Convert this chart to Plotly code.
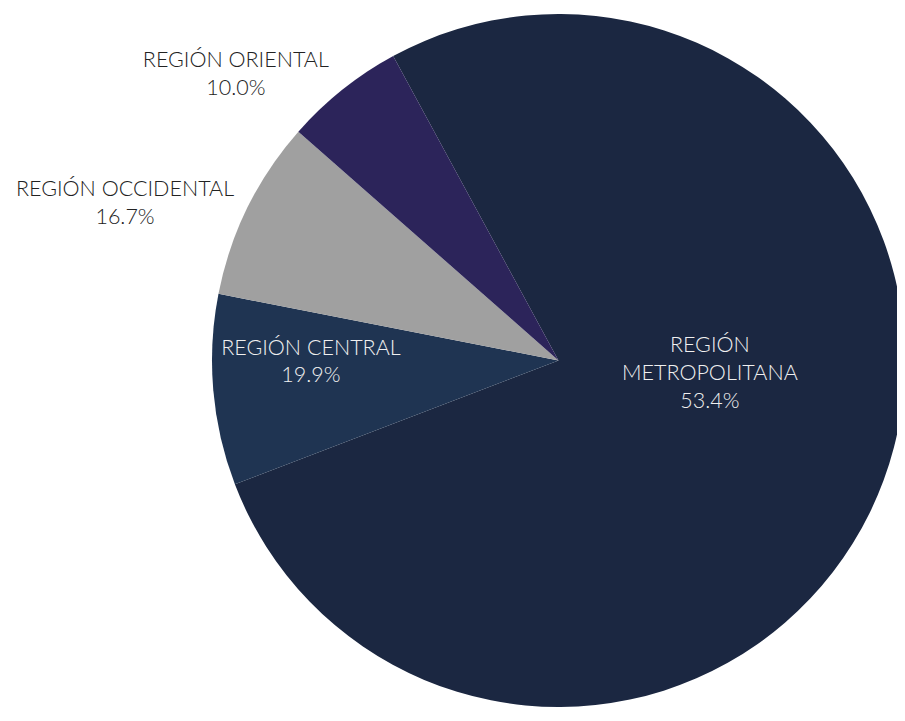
import plotly.graph_objects as go

regions = ["REGIÓN<br>METROPOLITANA", "REGIÓN CENTRAL", "REGIÓN OCCIDENTAL", "REGIÓN ORIENTAL"]
slice_values = [77.1, 8.9, 8.4, 5.6]
share_labels = ["53.4%", "19.9%", "16.7%", "10.0%"]
colors = ["#1b2741", "#1f3452", "#a0a0a0", "#2c245a"]
positions = ["none", "inside", "outside", "outside"]

FONT = "Lato"
FSIZE = 21.5

fig = go.Figure(go.Pie(
    labels=regions,
    values=slice_values,
    text=share_labels,
    texttemplate="%{label}<br>%{text}",
    textposition=positions,
    insidetextorientation="horizontal",
    sort=False,
    direction="clockwise",
    rotation=-28.5,
    marker=dict(colors=colors, line=dict(width=0)),
    insidetextfont=dict(family=FONT, size=FSIZE, color="#f0f0f0", weight=300),
    outsidetextfont=dict(family=FONT, size=FSIZE, color="#222222", weight=300),
    hoverinfo="label+text",
    showlegend=False,
    domain=dict(x=[0, 1], y=[0, 1]),
))

# label of the large slice, placed like in the reference
fig.add_annotation(
    x=0.7185, y=0.483, xref="paper", yref="paper",
    xanchor="center", yanchor="middle", showarrow=False,
    text=f"{regions[0]}<br>{share_labels[0]}",
    font=dict(family=FONT, size=FSIZE, color="#f0f0f0", weight=300),
    align="center",
)

fig.update_layout(
    width=905, height=721,
    margin=dict(l=191, r=0, t=0, b=21),
    paper_bgcolor="white",
    plot_bgcolor="white",
    font=dict(family=FONT, size=FSIZE),
)

fig.write_html("out.html")
